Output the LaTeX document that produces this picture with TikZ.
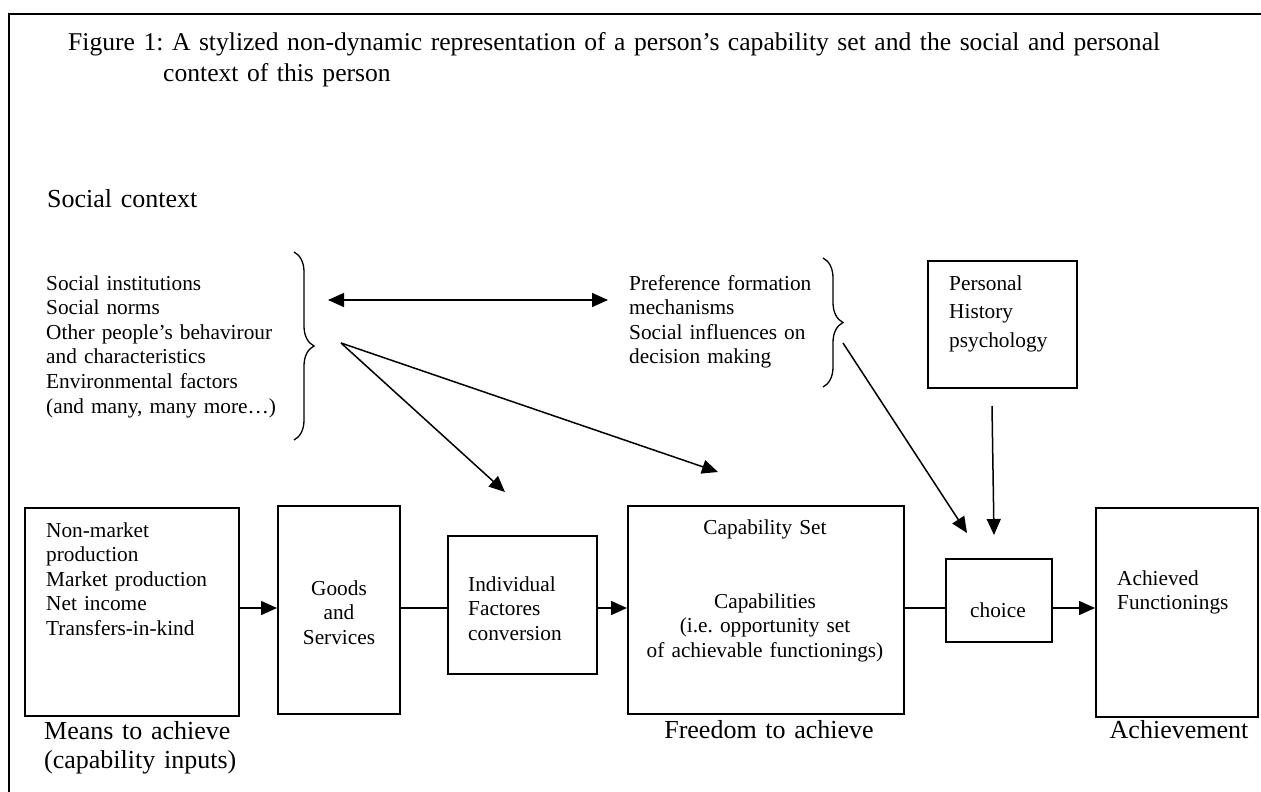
\documentclass[tikz,border=0pt]{standalone}
\usepackage{fontspec}
\setmainfont{Liberation Serif}
\usetikzlibrary{arrows.meta,decorations.pathreplacing}
\frenchspacing

\begin{document}
\begin{tikzpicture}[x=1pt,y=-1pt,
  box/.style={draw, line width=2pt, inner sep=0pt},
  body/.style={font=\fontsize{21.3}{24.6}\selectfont},
  wide/.style={font=\fontsize{21.3}{28.5}\selectfont},
  big/.style={font=\fontsize{26}{29}\selectfont},
  ltext/.style={inner sep=0pt, anchor=base west, align=left, text width=#1},
  ctext/.style={inner sep=0pt, anchor=base, align=center, text width=#1},
  arr/.style={line width=1.5pt, -{Triangle[length=16pt,width=14pt]}},
  darr/.style={line width=1.5pt, {Triangle[length=16pt,width=14pt]}-{Triangle[length=16pt,width=14pt]}},
  link/.style={line width=2pt},
  bracestyle/.style={line width=1.3pt, decorate},
]
\useasboundingbox (0,0) rectangle (1261,792);
\clip (0,0) rectangle (1261,792);

% outer frame, open towards the right and the bottom
\draw[line width=2.5pt] (9,800) -- (9,14) -- (1275,14);

% title
\node[ltext=1230pt, font=\fontsize{25.6}{31}\selectfont] (title) at (68,51)
  {Figure 1: A stylized non-dynamic representation of a person’s capability set and the social and personal\\
   \hspace*{95pt}context of this person};

\node[ltext=300pt, big] (social) at (47,207) {Social context};

% social factors
\node[ltext=260pt, body] (factors) at (46,290)
  {Social institutions\\Social norms\\Other people’s behavirour\\and characteristics\\Environmental factors\\(and many, many more…)};
\draw[bracestyle, decoration={brace, amplitude=20pt, aspect=0.5}] (294,252) -- (294,440);

\node[ltext=200pt, body] (pref) at (629,290)
  {Preference formation\\mechanisms\\Social influences on\\decision making};
\draw[bracestyle, decoration={brace, amplitude=20pt, aspect=0.5}] (823,258) -- (823,387);

% personal box
\node[box, minimum width=149pt, minimum height=127pt] (personal) at (1002.5,324.5) {};
\node[ltext=120pt, wide] (personaltxt) at (949,290) {Personal\\History\\psychology};

% main chain of boxes
\node[box, minimum width=214pt, minimum height=208pt] (means) at (132,612) {};
\node[ltext=190pt, body] (meanstxt) at (46,537)
  {Non-market\\production\\Market production\\Net income\\Transfers-in-kind};
\node[ltext=220pt, big] (meanslbl) at (44,739) {Means to achieve\\(capability inputs)};

\node[box, minimum width=122pt, minimum height=208pt] (goods) at (339,610) {};
\node[ctext=110pt, body] (goodstxt) at (339,595) {Goods\\and\\Services};

\node[box, minimum width=149pt, minimum height=138pt] (conv) at (522.5,605) {};
\node[ltext=125pt, body] (convtxt) at (468,591) {Individual\\Factores\\conversion};

\node[box, minimum width=276pt, minimum height=208pt] (capset) at (766,610) {};
\node[ctext=260pt, body] (capsettitle) at (765,534) {Capability Set};
\node[ctext=260pt, body] (capsettxt) at (765,608)
  {Capabilities\\(i.e. opportunity set\\of achievable functionings)};
\node[ctext=260pt, big] (capsetlbl) at (769,738) {Freedom to achieve};

\node[box, minimum width=106pt, minimum height=83pt] (choice) at (999,600.5) {};
\node[ctext=100pt, body] (choicetxt) at (998,617) {choice};

\node[box, minimum width=162pt, minimum height=209pt] (achieved) at (1177,612.5) {};
\node[ltext=140pt, body] (achievedtxt) at (1117,585) {Achieved\\Functionings};
\node[ctext=200pt, big] (achievedlbl) at (1179,738) {Achievement};

% free ends of the influence arrows
\coordinate (dl) at (328,300);
\coordinate (dr) at (608,300);
\coordinate (s1) at (341,343);
\coordinate (t1) at (505,492);
\coordinate (t2) at (718,472);
\coordinate (s2) at (843,343);
\coordinate (t3) at (967,533);
\coordinate (s3) at (992,406);
\coordinate (t4) at (994,535);
\coordinate (flow) at (0,608);

% influences
\draw[darr] (dl) -- (dr);
\draw[arr] (s1) -- (t1);
\draw[arr] (s1) -- (t2);
\draw[arr] (s2) -- (t3);
\draw[arr] (s3) -- (t4);

% flow along the chain
\draw[arr] (means.east |- flow) -- (goods.west |- flow);
\draw[link] (goods.east |- flow) -- (conv.west |- flow);
\draw[arr] (conv.east |- flow) -- (capset.west |- flow);
\draw[link] (capset.east |- flow) -- (choice.west |- flow);
\draw[arr] (choice.east |- flow) -- (achieved.west |- flow);
\end{tikzpicture}
\end{document}
